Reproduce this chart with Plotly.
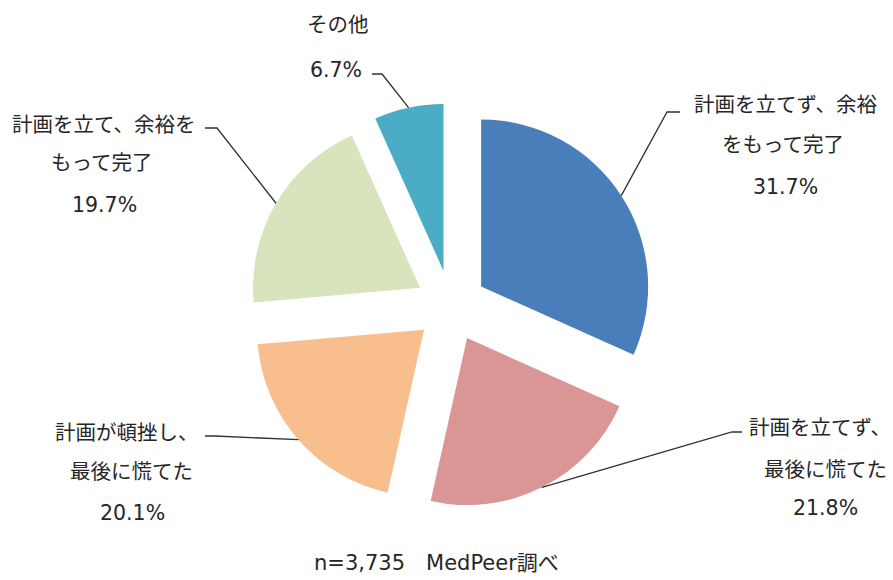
import math
import plotly.graph_objects as go

# ---- data ----
categories = [
    "計画を立てず、余裕をもって完了",
    "計画を立てず、最後に慌てた",
    "計画が頓挫し、最後に慌てた",
    "計画を立て、余裕をもって完了",
    "その他",
]
values = [31.7, 21.8, 20.1, 19.7, 6.7]
label_lines = [
    ["計画を立てず、余裕", "をもって完了"],
    ["計画を立てず、", "最後に慌てた"],
    ["計画が頓挫し、", "最後に慌てた"],
    ["計画を立て、余裕を", "もって完了"],
    ["その他"],
]
colors = ["#4A7EBB", "#D99694", "#F9BE8D", "#D7E4BD", "#4BACC6"]
footer = "n=3,735　MedPeer調べ"

# ---- layout constants ----
W, H = 893, 580
CX, CY = 451, 306          # pie centre (px)
PULL = 0.215
R = 167                    # slice radius (px)
EXT = R * (1 + PULL)

# label placement (px): list of line centres, elbow and end of leader line
label_layout = [
    dict(lines=[(786, 105), (783, 145), (785, 187)], elbow=(667, 112), end=(680, 112)),
    dict(lines=[(820, 428), (825, 470), (825, 508)], elbow=(732, 432), end=(742, 432)),
    dict(lines=[(127, 433), (131, 472), (132, 513)], elbow=(215, 436), end=(205, 436)),
    dict(lines=[(103, 125), (101, 163), (104, 205)], elbow=(217, 128), end=(205, 128)),
    dict(lines=[(338, 25), (336, 70)], elbow=(382, 74), end=(372, 74)),
]

FONT = "DejaVu Sans, Noto Sans CJK JP, sans-serif"
TXT = "#262626"
FS = 20.5


def px(x):
    return x / W


def py(y):
    return 1 - y / H


fig = go.Figure(go.Pie(
    labels=categories,
    values=values,
    sort=False,
    direction="clockwise",
    rotation=0,
    pull=[PULL] * len(values),
    marker=dict(colors=colors, line=dict(width=0)),
    textinfo="none",
    hoverinfo="label+percent",
    showlegend=False,
    domain=dict(x=[px(CX - EXT), px(CX + EXT)], y=[py(CY + EXT), py(CY - EXT)]),
))

total = sum(values)
annotations = []
shapes = []
cum = 0.0
for i, v in enumerate(values):
    mid = (cum + v / 2) / total * 2 * math.pi
    cum += v
    ax = CX + EXT * math.sin(mid)
    ay = CY - EXT * math.cos(mid)
    lay = label_layout[i]
    texts = label_lines[i] + [f"{v:.1f}%"]
    for t, (lx, ly) in zip(texts, lay["lines"]):
        annotations.append(dict(
            x=px(lx), y=py(ly), xref="paper", yref="paper",
            text=t, showarrow=False, xanchor="center", yanchor="middle",
            font=dict(family=FONT, size=FS, color=TXT),
        ))
    ex, ey = lay["elbow"]
    nx, ny = lay["end"]
    path = f"M {px(ax)} {py(ay)} L {px(ex)} {py(ey)} L {px(nx)} {py(ny)}"
    shapes.append(dict(type="path", xref="paper", yref="paper", path=path,
                       line=dict(color="#303030", width=1.3)))

annotations.append(dict(
    x=px(436), y=py(563), xref="paper", yref="paper", text=footer,
    showarrow=False, xanchor="center", yanchor="middle",
    font=dict(family=FONT, size=21, color=TXT),
))

fig.update_layout(
    width=W, height=H,
    margin=dict(l=0, r=0, t=0, b=0),
    paper_bgcolor="white", plot_bgcolor="white",
    annotations=annotations, shapes=shapes,
)

fig.write_html("out.html", config={"displayModeBar": False},
               post_script="document.body.style.margin='0';")
